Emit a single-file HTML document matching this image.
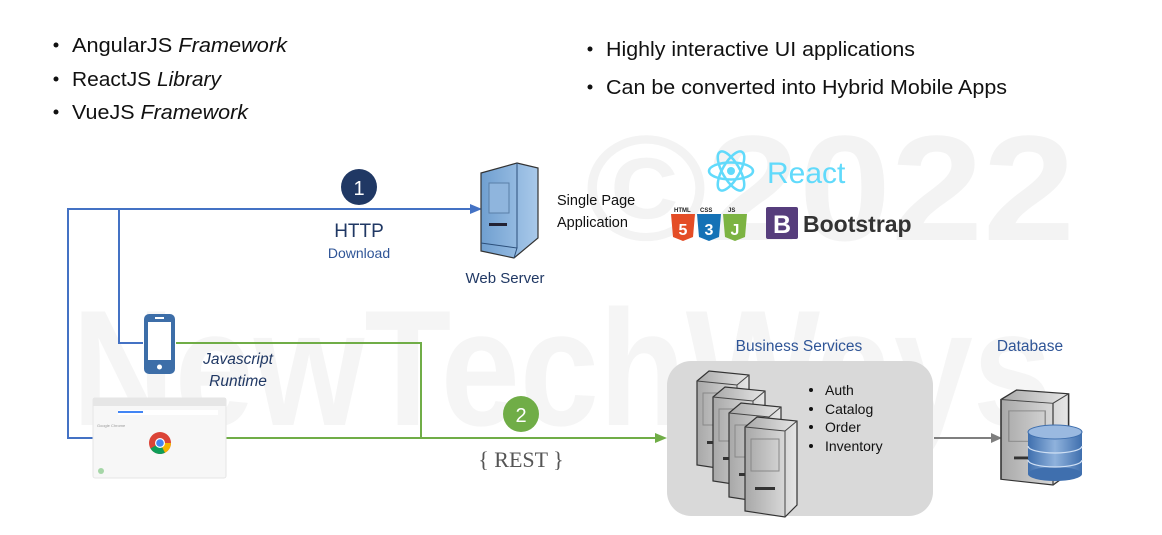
<!DOCTYPE html>
<html><head><meta charset="utf-8"><style>
html,body{margin:0;padding:0;background:#fff;}
svg{display:block;font-family:"Liberation Sans",sans-serif;}
</style></head><body>
<svg width="1162" height="535" viewBox="0 0 1162 535" xmlns="http://www.w3.org/2000/svg">
<defs>
<linearGradient id="srv" x1="0" x2="1"><stop offset="0" stop-color="#6f9fd0"/><stop offset="1" stop-color="#a9c9ea"/></linearGradient>
<linearGradient id="gsrv" x1="0" x2="1"><stop offset="0" stop-color="#a8a8a8"/><stop offset="1" stop-color="#e6e6e6"/></linearGradient>
<linearGradient id="db" x1="0" x2="1"><stop offset="0" stop-color="#3f6fae"/><stop offset="0.5" stop-color="#8fb2dc"/><stop offset="1" stop-color="#3f6fae"/></linearGradient>
<g id="gs">
<path d="M0 10 L12 0 L52 4 L52 88 L40 100 L0 94 Z" fill="url(#gsrv)" stroke="#333" stroke-width="1.2"/>
<path d="M0 10 L40 14 L52 4 M40 14 L40 100" fill="none" stroke="#444" stroke-width="1"/>
<rect x="6" y="22" width="28" height="32" fill="none" stroke="#888"/>
<rect x="10" y="70" width="20" height="3" fill="#333"/>
</g>
</defs>
<!-- watermarks -->
<text x="585" y="240" font-size="150" font-weight="bold" fill="#f3f3f3" textLength="490" lengthAdjust="spacingAndGlyphs">©2022</text>
<text x="72" y="425" font-size="165" font-weight="bold" fill="#f5f5f5" textLength="980" lengthAdjust="spacingAndGlyphs">NewTechWays</text>

<!-- top bullets -->
<g font-size="20" fill="#111">
<circle cx="56" cy="45" r="2.5"/><text x="72" y="52" textLength="215" lengthAdjust="spacingAndGlyphs">AngularJS <tspan font-style="italic">Framework</tspan></text>
<circle cx="56" cy="79" r="2.5"/><text x="72" y="86" textLength="149" lengthAdjust="spacingAndGlyphs">ReactJS <tspan font-style="italic">Library</tspan></text>
<circle cx="56" cy="112" r="2.5"/><text x="72" y="119" textLength="176" lengthAdjust="spacingAndGlyphs">VueJS <tspan font-style="italic">Framework</tspan></text>
<circle cx="590" cy="49" r="2.5"/><text x="606" y="56" textLength="309" lengthAdjust="spacingAndGlyphs">Highly interactive UI applications</text>
<circle cx="590" cy="87" r="2.5"/><text x="606" y="94" textLength="401" lengthAdjust="spacingAndGlyphs">Can be converted into Hybrid Mobile Apps</text>
</g>

<!-- blue lines -->
<g stroke="#4472c4" stroke-width="2" fill="none">
<path d="M93 438 H68 V209 H472"/>
<path d="M143 343 H119 V209"/>
</g>
<path d="M482 209 L470 204 L470 214 Z" fill="#4472c4"/>
<!-- green lines -->
<g stroke="#70ad47" stroke-width="2" fill="none">
<path d="M176 343 H421 V438"/>
<path d="M226 438 H657"/>
</g>
<path d="M667 438 L655 433 L655 443 Z" fill="#70ad47"/>

<circle cx="359" cy="187" r="18" fill="#203864"/>
<text x="359" y="195" font-size="20" fill="#fff" text-anchor="middle">1</text>
<circle cx="521" cy="414" r="18" fill="#70ad47"/>
<text x="521" y="422" font-size="20" fill="#fff" text-anchor="middle">2</text>

<text x="359" y="237" font-size="19" fill="#203864" text-anchor="middle">HTTP</text>
<text x="359" y="258" font-size="14" fill="#2f5597" text-anchor="middle">Download</text>
<text x="521" y="467" font-size="22" fill="#555" text-anchor="middle" font-family="Liberation Serif,serif">{ REST }</text>

<!-- web server -->
<g transform="translate(481,163)">
<path d="M0 10 L36 0 L57 5 L57 75 L33 95 L0 88 Z" fill="url(#srv)" stroke="#333" stroke-width="1.2"/>
<path d="M36 0 L36 85 M33 95 L36 85 L0 80" fill="none" stroke="#2c4f7a"/>
<rect x="8" y="20" width="20" height="30" fill="#8fb5dd" stroke="#5a7fa8"/>
<rect x="8" y="60" width="18" height="3" fill="#223"/>
</g>
<text x="505" y="283" font-size="15" fill="#203864" text-anchor="middle">Web Server</text>
<text x="557" y="205" font-size="14.5" fill="#111">Single Page</text>
<text x="557" y="227" font-size="14.5" fill="#111">Application</text>

<!-- React -->
<g transform="translate(731,171)" stroke="#61dafb" stroke-width="2.5" fill="none">
<ellipse rx="22" ry="8.5"/><ellipse rx="22" ry="8.5" transform="rotate(60)"/><ellipse rx="22" ry="8.5" transform="rotate(-60)"/>
<circle r="4" fill="#61dafb" stroke="none"/>
</g>
<text x="767" y="183" font-size="30" fill="#61dafb">React</text>
<!-- html css js -->
<g font-size="6" font-weight="bold" fill="#222">
<text x="674" y="212">HTML</text><text x="700" y="212">CSS</text><text x="728" y="212">JS</text>
</g>
<path d="M671 214 h24 l-2 23 l-10 4 l-10 -4 z" fill="#e44d26"/>
<text x="683" y="235" font-size="16" font-weight="bold" fill="#fff" text-anchor="middle">5</text>
<path d="M697 214 h24 l-2 23 l-10 4 l-10 -4 z" fill="#1572b6"/>
<text x="709" y="235" font-size="16" font-weight="bold" fill="#fff" text-anchor="middle">3</text>
<path d="M723 214 h24 l-2 23 l-10 4 l-10 -4 z" fill="#7cb342"/>
<text x="735" y="235" font-size="16" font-weight="bold" fill="#fff" text-anchor="middle">J</text>
<!-- bootstrap -->
<rect x="766" y="207" width="32" height="32" rx="2" fill="#563d7c"/>
<text x="782" y="233" font-size="25" font-weight="bold" fill="#fff" text-anchor="middle">B</text>
<text x="803" y="232" font-size="23" font-weight="bold" fill="#333">Bootstrap</text>

<!-- phone -->
<rect x="144" y="314" width="31" height="60" rx="5" fill="#3d6ea8"/>
<rect x="148" y="322" width="23" height="38" fill="#fff"/>
<rect x="155" y="317" width="9" height="2" fill="#fff"/>
<circle cx="159.5" cy="367" r="2.5" fill="#fff"/>
<text x="238" y="364" font-size="15.5" font-style="italic" fill="#203864" text-anchor="middle">Javascript</text>
<text x="238" y="386" font-size="15.5" font-style="italic" fill="#203864" text-anchor="middle">Runtime</text>

<!-- browser -->
<rect x="93" y="398" width="133" height="80" rx="2" fill="#f7f7f7" stroke="#e6e6e6"/>
<rect x="93" y="398" width="133" height="8" fill="#e6e6e6"/>
<rect x="118" y="410" width="100" height="5" fill="#fff"/>
<rect x="118" y="411" width="25" height="2" fill="#4285f4"/>
<text x="97" y="427" font-size="4" fill="#999">Google Chrome</text>
<circle cx="160" cy="443" r="11" fill="#db4437"/>
<path d="M160 443 L150.5 448.5 A11 11 0 0 0 165 452.8 Z" fill="#0f9d58"/>
<path d="M160 443 L165 452.8 A11 11 0 0 0 171 443 Z" fill="#f4b400"/>
<circle cx="160" cy="443" r="5" fill="#fff"/><circle cx="160" cy="443" r="3.8" fill="#4285f4"/>
<circle cx="101" cy="471" r="3" fill="#a5d6a7"/>

<!-- business services -->
<text x="799" y="351" font-size="15.5" fill="#2f5597" text-anchor="middle">Business Services</text>
<rect x="667" y="361" width="266" height="155" rx="24" fill="#d9d9d9"/>
<use href="#gs" transform="translate(697,371)"/>
<use href="#gs" transform="translate(713,387)"/>
<use href="#gs" transform="translate(729,403)"/>
<use href="#gs" transform="translate(745,417)"/>
<g font-size="14" fill="#111">
<circle cx="811" cy="390" r="2"/><text x="825" y="395">Auth</text>
<circle cx="811" cy="409" r="2"/><text x="825" y="414">Catalog</text>
<circle cx="811" cy="427" r="2"/><text x="825" y="432">Order</text>
<circle cx="811" cy="446" r="2"/><text x="825" y="451">Inventory</text>
</g>
<path d="M934 438 H993" stroke="#7f7f7f" stroke-width="2"/>
<path d="M1002 438 L991 433 L991 443 Z" fill="#7f7f7f"/>

<!-- database -->
<text x="1030" y="351" font-size="15.5" fill="#2f5597" text-anchor="middle">Database</text>
<use href="#gs" transform="translate(1001,390) scale(1.3,0.95)"/>
<g>
<rect x="1028" y="432" width="54" height="42" fill="url(#db)"/>
<ellipse cx="1055" cy="474" rx="27" ry="7" fill="#3f6fae"/>
<path d="M1028 446 a27 7 0 0 0 54 0 M1028 460 a27 7 0 0 0 54 0" stroke="#d0e0f4" stroke-width="1.2" fill="none"/>
<ellipse cx="1055" cy="432" rx="27" ry="7" fill="#9ab9e0" stroke="#3f6fae"/>
</g>
</svg>
</body></html>
